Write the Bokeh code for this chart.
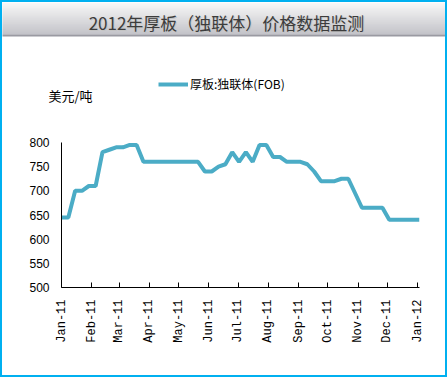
import math
import pandas as pd
from bokeh.plotting import figure
from bokeh.layouts import column
from bokeh.models import (ColumnDataSource, DatetimeTickFormatter, FixedTicker,
                          Legend, LegendItem, Range1d, Label)
from bokeh.embed import file_html
from bokeh.resources import INLINE

# ---------------- data ----------------
title_text = "2012年厚板（独联体）价格数据监测"
series_name = "厚板:独联体(FOB)"
unit_label = "美元/吨"

week_dates = list(pd.date_range("2011-01-01", periods=53, freq="7D")) + [pd.Timestamp("2012-01-03")]
prices = [645, 645, 700, 700, 710, 710, 780, 785, 790, 790,
          795, 795, 760, 760, 760, 760, 760, 760, 760, 760,
          760, 740, 740, 750, 755, 780, 760, 780, 760, 795,
          795, 770, 770, 760, 760, 760, 755, 740, 720, 720,
          720, 725, 725, 695, 665, 665, 665, 665, 640, 640,
          640, 640, 640, 640]
month_ticks = ["2011-01-01", "2011-02-01", "2011-03-01", "2011-04-01", "2011-05-01",
               "2011-06-01", "2011-07-01", "2011-08-01", "2011-09-01", "2011-10-01",
               "2011-11-01", "2011-12-01", "2012-01-01"]
y_ticks = [500, 550, 600, 650, 700, 750, 800]
x_start, x_end = "2011-01-01", "2012-01-03"

def ms(d):
    return pd.Timestamp(d).value / 1e6

LINE_COLOR = "#4BACC6"
W = 443          # inner width (page has a 2px border)
TOP_H = 102      # header area: title band, legend, unit label

# ---------------- header (title band + legend + unit) ----------------
tf = figure(width=W, height=TOP_H, x_range=Range1d(2, 2 + W), y_range=Range1d(2 + TOP_H, 2),
            x_axis_location=None, y_axis_location=None,
            output_backend="svg", toolbar_location=None, min_border=0)
tf.frame_align = False
tf.grid.visible = False
tf.outline_line_color = None
tf.background_fill_color = "white"
tf.border_fill_color = "white"
n = 32
for i in range(n):
    t = i / (n - 1)
    c0, c1 = (246, 246, 246), (176, 176, 184)
    col = "#%02x%02x%02x" % tuple(int(round(a + (b - a) * t)) for a, b in zip(c0, c1))
    tf.quad(left=0, right=450, top=2 + i, bottom=3 + i, fill_color=col, line_color=None)
tf.quad(left=0, right=450, top=34, bottom=36, fill_color="#9a9aa2", line_color=None)
tf.add_layout(Label(x=227, y=23, text=title_text, text_align="center", text_baseline="middle",
                    text_font="Noto Sans CJK SC", text_font_size="17px", text_color="#c4c4c4"))
tf.add_layout(Label(x=226, y=22, text=title_text, text_align="center", text_baseline="middle",
                    text_font="Noto Sans CJK SC", text_font_size="17px", text_color="#3c3c3c"))
tf.add_layout(Label(x=48, y=95, text=unit_label, text_baseline="middle",
                    text_font="Noto Sans CJK SC", text_font_size="13px", text_color="black"))

key = tf.line(x=[-50, -40], y=[-50, -50], line_color=LINE_COLOR, line_width=4)
legend = Legend(items=[LegendItem(label=series_name, renderers=[key])], location=(156, 12),
                glyph_width=30, glyph_height=12, label_height=12, label_standoff=2,
                padding=0, margin=0, border_line_alpha=0, background_fill_alpha=0,
                label_text_font="Noto Sans CJK SC", label_text_font_size="12px",
                label_text_color="black")
tf.add_layout(legend, "center")

# ---------------- main chart ----------------
src = ColumnDataSource(dict(date=week_dates, price=prices))
p = figure(width=W, height=377 - 4 - TOP_H, x_axis_type="datetime",
           x_range=Range1d(ms(x_start), ms(x_end)), y_range=Range1d(500, 800),
           output_backend="svg", toolbar_location=None,
           min_border_left=59, min_border_right=26, min_border_top=38, min_border_bottom=88)
p.frame_align = False
p.grid.visible = False
p.outline_line_color = None
p.background_fill_color = "white"
p.border_fill_color = "white"

p.line("date", "price", source=src, line_color=LINE_COLOR, line_width=4)

p.xaxis.ticker = FixedTicker(ticks=[ms(d) for d in month_ticks])
p.xaxis.formatter = DatetimeTickFormatter(days="%b-%y", months="%b-%y", years="%b-%y")
p.xaxis.major_label_orientation = math.pi / 2
p.xaxis.major_label_text_font = "Liberation Mono"
p.xaxis.major_label_text_font_size = "12px"
p.xaxis.major_label_text_color = "black"
p.xaxis.major_label_standoff = 12
p.xaxis.major_tick_in = 5
p.xaxis.major_tick_out = 0
p.xaxis.minor_tick_line_color = None
p.xaxis.axis_line_color = "black"
p.xaxis.major_tick_line_color = "black"

p.yaxis.ticker = FixedTicker(ticks=y_ticks)
p.yaxis.major_label_text_font = "Liberation Sans"
p.yaxis.major_label_text_font_size = "12px"
p.yaxis.major_label_text_color = "black"
p.yaxis.major_label_standoff = 12
p.yaxis.major_tick_in = 0
p.yaxis.major_tick_out = 0
p.yaxis.minor_tick_line_color = None
p.yaxis.axis_line_color = "black"

layout = column(tf, p, spacing=0, styles={"border": "2px solid #00B0F0"})

open("out.html", "w").write(file_html(layout, INLINE))
